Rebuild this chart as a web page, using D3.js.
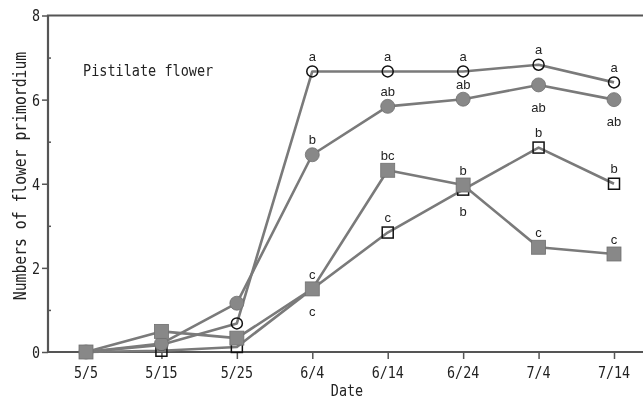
<!DOCTYPE html>
<html>
<head>
<meta charset="utf-8">
<script src="https://cdn.jsdelivr.net/npm/d3@7"></script>
<style>
  html, body { margin: 0; padding: 0; background: #fff; }
  svg { display: block; filter: grayscale(1); }
</style>
</head>
<body>
<div id="chart"></div>
<script>
// Sampling dates (x categories)
const dates = ['5/5', '5/15', '5/25', '6/4', '6/14', '6/24', '7/4', '7/14'];
const yTicks = [0, 2, 4, 6, 8];
const yMinorTicks = [1, 3, 5, 7];

// Series values
const openCircle   = [0, 0.17, 0.68, 6.67, 6.67, 6.67, 6.83, 6.41];
const filledCircle = [0, 0.20, 1.16, 4.69, 5.84, 6.01, 6.35, 6.00];
const filledSquare = [0, 0.49, 0.33, 1.50, 4.32, 3.97, 2.49, 2.33];
const openSquare   = [0, 0.03, 0.12, 1.50, 2.84, 3.86, 4.86, 4.00];

// Significance letters (from 6/4 on): [letter, side]
const openCircleLabels   = [null, null, null, ['a', 'above'], ['a', 'above'], ['a', 'above'], ['a', 'above'], ['a', 'above']];
const filledCircleLabels = [null, null, null, ['b', 'above'], ['ab', 'above'], ['ab', 'above'], ['ab', 'below'], ['ab', 'below']];
const filledSquareLabels = [null, null, null, ['c', 'above'], ['bc', 'above'], ['b', 'above'], ['c', 'above'], ['c', 'above']];
const openSquareLabels   = [null, null, null, ['c', 'below'], ['c', 'above'], ['b', 'below'], ['b', 'above'], ['b', 'above']];

const panelTitle = 'Pistilate flower';
const xTitle = 'Date';
const yTitle = 'Numbers of flower primordium';

const W = 643, H = 400;
const frame = { left: 48, top: 15.5, bottom: 352, right: 643 };

const LINE = '#7a7a7a';
const FILL = '#888';
const AXIS = '#555';
const MONO = '"DejaVu Sans Mono", "Liberation Mono", monospace';
const SANS = '"Liberation Sans", Arial, sans-serif';

const svg = d3.select('#chart').append('svg')
    .attr('width', W)
    .attr('height', H);

const x = d3.scalePoint()
    .domain(dates)
    .range([86, 614]);

const y = d3.scaleLinear()
    .domain([0, 8])
    .range([frame.bottom, frame.top]);

// gothic-like narrow text: mono font squeezed horizontally
function narrowText(parent, px, py, str, size, sx, anchor, rotate) {
    const g = parent.append('g')
        .attr('transform', `translate(${px},${py})${rotate ? ' rotate(-90)' : ''} scale(${sx},1)`);
    g.append('text')
        .attr('text-anchor', anchor)
        .attr('dy', '0.36em')
        .style('font-family', MONO)
        .style('font-size', size + 'px')
        .attr('fill', '#222')
        .text(str);
    return g;
}

// y axis major ticks
const yAxis = svg.append('g')
    .attr('transform', `translate(${frame.left},0)`)
    .call(d3.axisLeft(y).tickValues(yTicks).tickSize(6).tickFormat(''));
yAxis.select('.domain').remove();
yAxis.selectAll('line').attr('stroke', AXIS).attr('stroke-width', 1.5);
yTicks.forEach(t => narrowText(svg, frame.left - 8, y(t), String(t), 16.5, 0.81, 'end'));

// y axis minor ticks
const yMinor = svg.append('g')
    .attr('transform', `translate(${frame.left},0)`)
    .call(d3.axisLeft(y).tickValues(yMinorTicks).tickSize(-3).tickFormat(''));
yMinor.select('.domain').remove();
yMinor.selectAll('line').attr('stroke', AXIS).attr('stroke-width', 1.5);

// x axis ticks
const xAxis = svg.append('g')
    .attr('transform', `translate(0,${frame.bottom})`)
    .call(d3.axisBottom(x).tickSize(7).tickFormat(''));
xAxis.select('.domain').remove();
xAxis.selectAll('line').attr('stroke', AXIS).attr('stroke-width', 1.5);
dates.forEach(d => narrowText(svg, x(d), frame.bottom + 20, d, 16.5, 0.81, 'middle'));

// frame lines: left, top, bottom
svg.append('path')
    .attr('d', `M${frame.right},${frame.top}H${frame.left}V${frame.bottom}H${frame.right}`)
    .attr('fill', 'none')
    .attr('stroke', AXIS)
    .attr('stroke-width', 2.2);

// titles
narrowText(svg, 347, 390, xTitle, 16, 0.84, 'middle');
narrowText(svg, 20, 176, yTitle, 18, 0.82, 'middle', true);
narrowText(svg, 83, 70, panelTitle, 16.5, 0.82, 'start');

const line = d3.line()
    .x((d, i) => x(dates[i]))
    .y(d => y(d));

const series = [
    { values: openSquare, labels: openSquareLabels, shape: 'square', filled: false },
    { values: openCircle, labels: openCircleLabels, shape: 'circle', filled: false },
    { values: filledCircle, labels: filledCircleLabels, shape: 'circle', filled: true },
    { values: filledSquare, labels: filledSquareLabels, shape: 'square', filled: true }
];

series.forEach(s => {
    const g = svg.append('g');

    g.append('path')
        .datum(s.values)
        .attr('fill', 'none')
        .attr('stroke', LINE)
        .attr('stroke-width', 2.6)
        .attr('stroke-linejoin', 'round')
        .attr('d', line);

    const size = s.filled ? 14 : 11;
    const marks = g.selectAll('.mark')
        .data(s.values)
        .enter();

    if (s.shape === 'circle') {
        marks.append('circle')
            .attr('cx', (d, i) => x(dates[i]))
            .attr('cy', d => y(d))
            .attr('r', size / 2);
    } else {
        marks.append('rect')
            .attr('x', (d, i) => x(dates[i]) - size / 2)
            .attr('y', d => y(d) - size / 2)
            .attr('width', size)
            .attr('height', size);
    }
    g.selectAll('circle, rect')
        .attr('fill', s.filled ? FILL : 'none')
        .attr('stroke', s.filled ? '#707070' : '#111')
        .attr('stroke-width', s.filled ? 0.8 : 1.5);

    // significance letters
    g.selectAll('.sig')
        .data(s.values.map((v, i) => ({ v, i, lab: s.labels[i] })).filter(d => d.lab))
        .enter()
        .append('text')
        .attr('x', d => x(dates[d.i]))
        .attr('y', d => y(d.v) + (d.lab[1] === 'above' ? -15 : 22))
        .attr('dy', '0.36em')
        .attr('text-anchor', 'middle')
        .style('font-family', SANS)
        .style('font-size', '13px')
        .attr('fill', '#222')
        .text(d => d.lab[0]);
});
</script>
</body>
</html>
